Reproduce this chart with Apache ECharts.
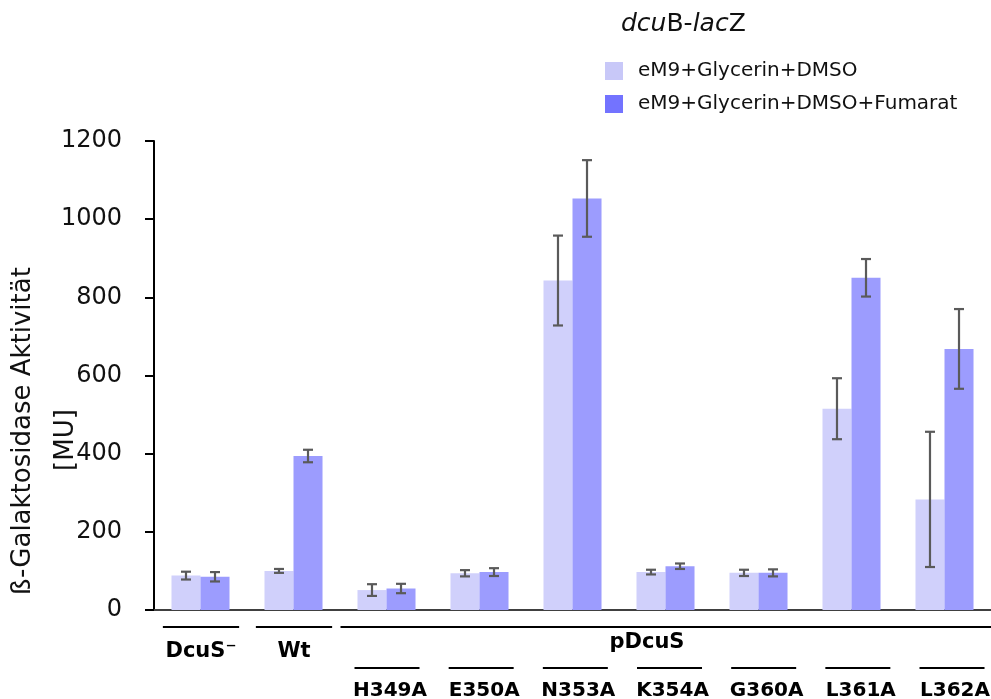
<!DOCTYPE html>
<html>
<head>
<meta charset="utf-8">
<script src="https://cdn.jsdelivr.net/npm/echarts@6/dist/echarts.min.js"></script>
<style>
  html, body { margin: 0; padding: 0; background: #ffffff; }
  #chart { width: 991px; height: 699px; }
</style>
</head>
<body>
<div id="chart"></div>
<script>
// Strains / constructs along the x axis
const categories = ['DcuS\u207B', 'Wt', 'H349A', 'E350A', 'N353A', 'K354A', 'G360A', 'L361A', 'L362A'];
const seriesNames = ['eM9+Glycerin+DMSO', 'eM9+Glycerin+DMSO+Fumarat'];

// β-galactosidase activity [MU], means and standard deviations
const glycerinDmso      = [88, 100, 51, 94, 843, 97, 95, 515, 283];
const glycerinDmsoErr   = [10, 5, 15, 8, 115, 6, 8, 78, 173];
const fumarat           = [85, 394, 55, 97, 1053, 112, 95, 850, 668];
const fumaratErr        = [12, 16, 12, 10, 98, 7, 9, 48, 102];

// Y axis ticks
const yTicks = [0, 200, 400, 600, 800, 1000, 1200];

// Group brackets below the axis
const groupLabels = [
  { text: 'DcuS\u207B', from: 0, to: 0 },
  { text: 'Wt', from: 1, to: 1 },
  { text: 'pDcuS', from: 2, to: 8 }
];

const lightColor = '#d0d0fb';
const darkColor = '#9c9cfe';
const catGap = 0.376;
const FONT = '"DejaVu Sans", "Noto Sans", sans-serif';

const chart = echarts.init(document.getElementById('chart'));

function errorSeries(values, errs, side, name) {
  return {
    type: 'custom',
    name: name + ' SD',
    z: 5,
    silent: true,
    renderItem: function (params, api) {
      const idx = api.value(0);
      const mean = api.value(1);
      const sd = api.value(2);
      const band = api.size([1, 0])[0];
      const barW = band * (1 - catGap) / 2;
      const c = api.coord([idx, mean]);
      const x = c[0] + side * barW / 2;
      const top = api.coord([idx, mean + sd])[1];
      const bot = api.coord([idx, mean - sd])[1];
      const cap = 5;
      const style = { stroke: '#5a5a5a', lineWidth: 2.2 };
      return {
        type: 'group',
        children: [
          { type: 'line', shape: { x1: x, y1: top, x2: x, y2: bot }, style: style },
          { type: 'line', shape: { x1: x - cap, y1: top, x2: x + cap, y2: top }, style: style },
          { type: 'line', shape: { x1: x - cap, y1: bot, x2: x + cap, y2: bot }, style: style }
        ]
      };
    },
    data: values.map((v, i) => [i, v, errs[i]])
  };
}

const option = {
  backgroundColor: '#ffffff',
  animation: false,
  textStyle: { fontFamily: FONT },
  grid: { left: 154, right: 0, top: 141, bottom: 89, containLabel: false },
  legend: {
    orient: 'vertical',
    left: 605,
    top: 61,
    padding: 0,
    itemWidth: 18,
    itemHeight: 18,
    itemGap: 13,
    icon: 'rect',
    selectedMode: false,
    textStyle: { fontFamily: FONT, fontSize: 20, color: '#111111', lineHeight: 20, padding: [0, 0, 0, 10] },
    data: [
      { name: seriesNames[0], itemStyle: { color: '#c8c8f8' } },
      { name: seriesNames[1], itemStyle: { color: '#7373ff' } }
    ]
  },
  xAxis: {
    type: 'category',
    data: categories,
    axisLine: { show: true, lineStyle: { color: '#404040', width: 2 } },
    axisTick: { show: false },
    axisLabel: { show: false },
    splitLine: { show: false }
  },
  yAxis: {
    type: 'value',
    min: yTicks[0],
    max: yTicks[yTicks.length - 1],
    interval: yTicks[1] - yTicks[0],
    axisLine: { show: true, lineStyle: { color: '#000000', width: 2 } },
    axisTick: { show: true, length: 9, lineStyle: { color: '#000000', width: 2 } },
    axisLabel: { margin: 32, fontFamily: FONT, fontSize: 24, color: '#111111',
                 formatter: v => String(v) },
    splitLine: { show: false }
  },
  series: [
    {
      name: seriesNames[0],
      type: 'bar',
      data: glycerinDmso,
      barGap: '0%',
      barCategoryGap: (catGap * 100) + '%',
      itemStyle: { color: lightColor }
    },
    {
      name: seriesNames[1],
      type: 'bar',
      data: fumarat,
      barGap: '0%',
      barCategoryGap: (catGap * 100) + '%',
      itemStyle: { color: darkColor }
    },
    errorSeries(glycerinDmso, glycerinDmsoErr, -1, seriesNames[0]),
    errorSeries(fumarat, fumaratErr, 1, seriesNames[1])
  ]
};

chart.setOption(option);

// Annotation rows under the axis: group brackets, mutation underlines and names
function buildAnnotations() {
  const base = chart.convertToPixel({ yAxisIndex: 0 }, 0);
  const cx = i => chart.convertToPixel({ xAxisIndex: 0 }, i);
  const band = cx(1) - cx(0);
  const drift = i => (i < 2 ? 0.5 : 0.5 + (i - 2) * 1.17);
  const els = [];

  // title above the legend
  els.push({
    type: 'text',
    left: 621,
    top: 12,
    style: {
      text: '{i|dcu}{n|B-}{i|lac}{n|Z}',
      rich: {
        i: { fontFamily: FONT, fontSize: 25, fontStyle: 'italic', fill: '#111111' },
        n: { fontFamily: FONT, fontSize: 25, fill: '#111111' }
      }
    }
  });

  // rotated y axis title (two lines)
  els.push({
    type: 'text', x: 23, y: 431, rotation: Math.PI / 2,
    style: { text: '\u00DF-Galaktosidase Aktivit\u00E4t', fontFamily: FONT, fontSize: 26,
             fill: '#111111', align: 'center', verticalAlign: 'middle' }
  });
  els.push({
    type: 'text', x: 66, y: 440, rotation: Math.PI / 2,
    style: { text: '[MU]', fontFamily: FONT, fontSize: 26,
             fill: '#111111', align: 'center', verticalAlign: 'middle' }
  });

  groupLabels.forEach(g => {
    const x1 = g.from === g.to ? cx(g.from) + drift(g.from) - band * 0.41 : cx(g.from) - band * 0.5 + 0.5;
    const x2 = g.from === g.to ? cx(g.to) + drift(g.to) + band * 0.41 : 991;
    els.push({ type: 'line', shape: { x1: x1, y1: base + 17, x2: x2, y2: base + 17 },
               style: { stroke: '#000000', lineWidth: 2 } });
    const single = g.from === g.to;
    const tx = single ? (x1 + x2) / 2 : 647;
    els.push({
      type: 'text', x: tx, y: single ? base + 42 : base + 33,
      style: { text: g.text, fontFamily: FONT, fontSize: 21, fontWeight: 'bold',
               fill: '#000000', align: 'center', verticalAlign: 'middle' }
    });
  });

  for (let i = 2; i < categories.length; i++) {
    const c = cx(i) + drift(i);
    els.push({ type: 'line', shape: { x1: c - 32.5, y1: base + 58, x2: c + 32.5, y2: base + 58 },
               style: { stroke: '#000000', lineWidth: 2 } });
    els.push({
      type: 'text', x: c + 3, y: base + 81,
      style: { text: categories[i], fontFamily: FONT, fontSize: 20, fontWeight: 'bold',
               fill: '#000000', align: 'center', verticalAlign: 'middle' }
    });
  }
  chart.setOption({ graphic: { elements: els } });
}

buildAnnotations();
</script>
</body>
</html>
